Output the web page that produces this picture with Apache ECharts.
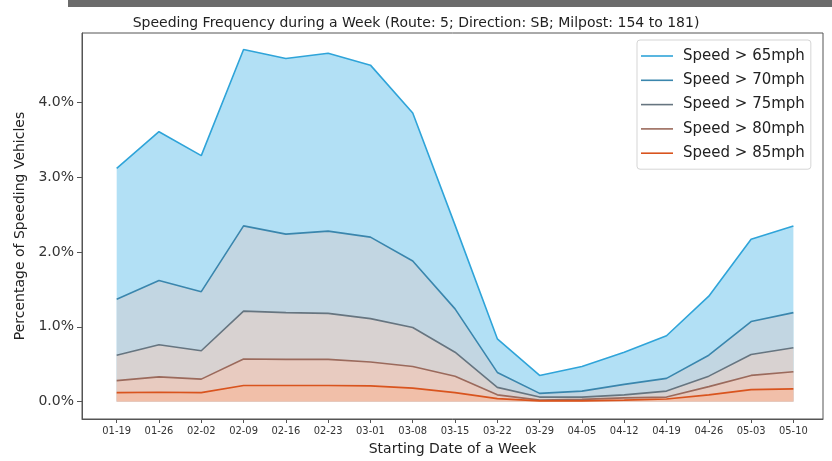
<!DOCTYPE html>
<html>
<head>
<meta charset="utf-8">
<script src="https://cdn.jsdelivr.net/npm/echarts@6/dist/echarts.min.js"></script>
<style>html,body{margin:0;padding:0;background:#fff;}#c{width:832px;height:461px;}</style>
</head>
<body>
<div id="c"></div>
<script>
const categories = ['01-19','01-26','02-02','02-09','02-16','02-23','03-01','03-08','03-15','03-22','03-29','04-05','04-12','04-19','04-26','05-03','05-10'];
const seriesNames = ['Speed > 65mph','Speed > 70mph','Speed > 75mph','Speed > 80mph','Speed > 85mph'];
const over65 = [3.12,3.61,3.29,4.71,4.59,4.66,4.50,3.86,2.36,0.84,0.35,0.47,0.66,0.88,1.41,2.17,2.35];
const over70 = [1.37,1.62,1.47,2.35,2.24,2.28,2.20,1.88,1.24,0.39,0.11,0.14,0.23,0.31,0.62,1.07,1.19];
const over75 = [0.62,0.76,0.68,1.21,1.19,1.18,1.11,0.99,0.66,0.19,0.06,0.06,0.09,0.14,0.34,0.63,0.72];
const over80 = [0.28,0.33,0.30,0.57,0.565,0.565,0.53,0.47,0.34,0.09,0.02,0.03,0.05,0.06,0.20,0.35,0.40];
const over85 = [0.12,0.125,0.12,0.215,0.215,0.215,0.21,0.18,0.12,0.04,0.01,0.01,0.02,0.035,0.09,0.16,0.17];
const yTicks = [0,1,2,3,4];

const lineColors = ['#2fa4d9','#3a86ad','#667580','#9b6a5c','#d9541e'];
const fillColors = ['#b2e0f5','#c2d6e2','#d8d2d1','#e8cbc0','#f1bfa9'];
const allData = [over65, over70, over75, over80, over85];

const chart = echarts.init(document.getElementById('c'), null, {renderer:'canvas'});
const font = 'DejaVu Sans';
chart.setOption({
  animation: false,
  backgroundColor: '#fff',
  graphic: [{type:'rect', shape:{x:68,y:0,width:764,height:7}, style:{fill:'#6b6b6b'}, z:100}],
  title: {
    text: 'Speeding Frequency during a Week (Route: 5; Direction: SB; Milpost: 154 to 181)',
    left: 'center', top: 11,
    textStyle: {fontFamily: font, fontSize: 14, fontWeight: 'normal', color: '#222'}
  },
  grid: {left: 82, right: 9, top: 33, bottom: 40, show: true, borderColor: '#555', borderWidth: 1, backgroundColor:'transparent'},
  legend: {
    orient: 'vertical', left: 637, top: 40,
    width: 181,
    padding: [8, 6, 8, 4],
    itemGap: 8.3,
    itemWidth: 32, itemHeight: 1.6,
    icon: 'rect',
    backgroundColor: '#fff', borderColor: '#d5d5d5', borderWidth: 1, borderRadius: 3,
    textStyle: {fontFamily: font, fontSize: 15, lineHeight: 16, color: '#222', padding:[0,0,0,5]},
    data: seriesNames
  },
  xAxis: {
    type: 'value', min: -0.82, max: 16.7,
    name: 'Starting Date of a Week', nameLocation: 'middle', nameGap: 23,
    nameTextStyle: {fontFamily: font, fontSize: 14, color: '#222'},
    axisLine: {show: true, onZero: false, lineStyle: {color: '#555'}},
    axisTick: {show: true, length: 4, lineStyle: {color: '#555'}, customValues: categories.map((c,i)=>i)},
    axisLabel: {fontFamily: 'DejaVu Sans Condensed, DejaVu Sans', fontSize: 11, color: '#333', margin: 7,
      customValues: categories.map((c,i)=>i),
      formatter: v => categories[Math.round(v)] || ''},
    splitLine: {show: false}
  },
  yAxis: {
    type: 'value', min: -0.233, max: 4.93,
    name: 'Percentage of Speeding Vehicles', nameLocation: 'middle', nameGap: 52,
    nameTextStyle: {fontFamily: font, fontSize: 14, color: '#222'},
    axisLine: {show: true, onZero: false, lineStyle: {color: '#555'}},
    axisTick: {show: true, length: 5, lineStyle: {color: '#555'}, customValues: yTicks},
    axisLabel: {fontFamily: font, fontSize: 14, color: '#333', margin: 8,
      customValues: yTicks,
      formatter: v => v.toFixed(1) + '%'},
    splitLine: {show: false}
  },
  series: allData.map((d, k) => ({
    name: seriesNames[k],
    type: 'line',
    data: d.map((v, i) => [i, v]),
    symbol: 'none',
    color: lineColors[k],
    lineStyle: {color: lineColors[k], width: 1.6},
    areaStyle: {color: fillColors[k], opacity: 1},
    z: 2 + k
  }))
});
</script>
</body>
</html>
